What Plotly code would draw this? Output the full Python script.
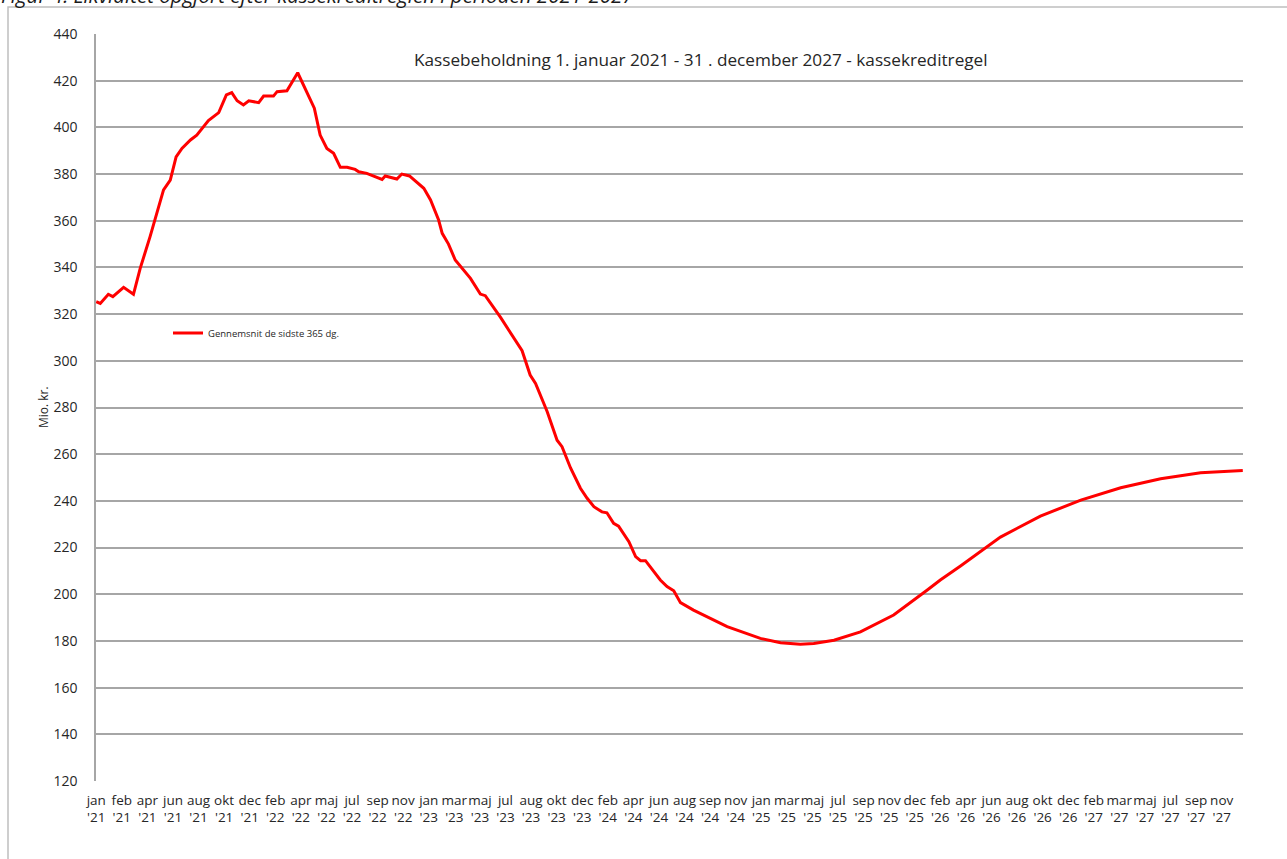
import plotly.graph_objects as go
import pandas as pd

# ---- data ----
dates = [
    "2021-01-01", "2021-01-10", "2021-01-28", "2021-02-07", "2021-03-03", "2021-03-25",
    "2021-04-09", "2021-05-01", "2021-05-31", "2021-06-15", "2021-06-28", "2021-07-11",
    "2021-07-30", "2021-08-13", "2021-09-08", "2021-10-01", "2021-10-18", "2021-10-30",
    "2021-11-11", "2021-11-25", "2021-12-07", "2021-12-29", "2022-01-09", "2022-01-31",
    "2022-02-08", "2022-03-02", "2022-03-26", "2022-04-16", "2022-05-02", "2022-05-15",
    "2022-05-30", "2022-06-14", "2022-06-29", "2022-07-14", "2022-08-01", "2022-08-09",
    "2022-08-27", "2022-09-30", "2022-10-07", "2022-11-02", "2022-11-13", "2022-11-30",
    "2023-01-01", "2023-01-16", "2023-02-03", "2023-02-11", "2023-02-25", "2023-03-12",
    "2023-04-15", "2023-05-07", "2023-05-18", "2023-06-21", "2023-08-08", "2023-08-26",
    "2023-09-07", "2023-10-03", "2023-10-25", "2023-11-05", "2023-11-24", "2023-12-16",
    "2023-12-31", "2024-01-15", "2024-02-02", "2024-02-13", "2024-02-28", "2024-03-10",
    "2024-04-02", "2024-04-17", "2024-04-28", "2024-05-09", "2024-06-11", "2024-06-26",
    "2024-07-11", "2024-07-26", "2024-08-24", "2024-11-07", "2025-01-20", "2025-03-06",
    "2025-04-19", "2025-05-19", "2025-07-03", "2025-08-31", "2025-11-13", "2026-01-27",
    "2026-02-25", "2026-04-11", "2026-07-09", "2026-10-06", "2027-01-04", "2027-04-03",
    "2027-07-01", "2027-09-28", "2027-12-31",
]
kassebeholdning = [
    325.3, 324.6, 328.5, 327.5, 331.5, 328.5,
    339.6, 353.2, 373.2, 377.4, 387.4, 391.0,
    394.6, 396.7, 402.9, 406.3, 413.9, 414.9,
    411.4, 409.6, 411.4, 410.6, 413.4, 413.4,
    415.3, 415.7, 423.4, 414.6, 408.2, 396.7,
    391.0, 388.9, 382.9, 382.9, 382.0, 381.0,
    380.3, 377.7, 379.2, 377.9, 380.0, 379.2,
    373.9, 368.9, 360.3, 354.6, 350.0, 343.2,
    335.3, 328.6, 327.9, 318.6, 304.3, 293.9,
    290.3, 278.2, 266.0, 263.2, 254.1, 245.4,
    241.1, 237.5, 235.3, 234.9, 230.4, 229.2,
    222.5, 216.1, 214.4, 214.4, 206.1, 203.3,
    201.5, 196.4, 193.2, 186.1, 181.1, 179.2,
    178.6, 178.9, 180.3, 183.9, 191.1, 201.8,
    206.1, 212.1, 224.5, 233.5, 240.3, 245.6,
    249.5, 252.0, 253.0,
]
series_name = "Gennemsnit de sidste 365 dg."
tick_labels = [
    "jan '21", "feb '21", "apr '21", "jun '21", "aug '21", "okt '21", "dec '21",
    "feb '22", "apr '22", "maj '22", "jul '22", "sep '22", "nov '22",
    "jan '23", "mar '23", "maj '23", "jul '23", "aug '23", "okt '23", "dec '23",
    "feb '24", "apr '24", "jun '24", "aug '24", "sep '24", "nov '24",
    "jan '25", "mar '25", "maj '25", "jul '25", "sep '25", "nov '25", "dec '25",
    "feb '26", "apr '26", "jun '26", "aug '26", "okt '26", "dec '26",
    "feb '27", "mar '27", "maj '27", "jul '27", "sep '27", "nov '27",
]
y_ticks = list(range(120, 441, 20))
title_text = "Kassebeholdning 1. januar 2021 - 31 . december 2027 - kassekreditregel"
caption_text = "Figur 4. Likviditet opgjort efter kassekreditreglen i perioden 2021-2027"
y_title = "Mio. kr."

# tick positions: a label every 57 days from the first date (category axis interval)
tick_vals = pd.date_range("2021-01-01", periods=len(tick_labels), freq="57D")
tick_text = [t.replace(" ", "<br>") for t in tick_labels]

FONT = "Open Sans, Noto Sans, DejaVu Sans, sans-serif"
GRID = "#a6a6a6"
TXT = "#262626"

fig = go.Figure()
fig.add_trace(go.Scatter(
    x=dates, y=kassebeholdning, mode="lines", name=series_name,
    line=dict(color="#ff0000", width=3), showlegend=True,
))

W, H = 1287, 859
L, R, T, B = 96, 44, 34, 78
pw, ph = W - L - R, H - T - B


def px_x(p):
    return (p - L) / pw


def px_y(p):
    return (H - B - p) / ph


fig.update_layout(
    width=W, height=H,
    margin=dict(l=L, r=R, t=T, b=B, pad=0),
    paper_bgcolor="white", plot_bgcolor="white",
    font=dict(family=FONT, color=TXT, size=13),
    showlegend=True,
    legend=dict(
        x=px_x(168), y=px_y(333), xanchor="left", yanchor="middle",
        bgcolor="rgba(0,0,0,0)", font=dict(size=9.5, color=TXT),
        itemwidth=30,
    ),
    xaxis=dict(
        type="date",
        range=["2020-12-31 12:00", "2027-12-31 12:00"],
        tickmode="array", tickvals=tick_vals, ticktext=tick_text,
        showgrid=False, zeroline=False,
        showline=False, ticks="",
        tickfont=dict(size=13.5, color=TXT),
        tickangle=0, ticklabelstandoff=9,
    ),
    yaxis=dict(
        range=[120, 440], tickmode="array", tickvals=y_ticks,
        showgrid=True, gridcolor=GRID, gridwidth=1.5,
        zeroline=False, showline=True, linecolor=GRID, linewidth=1.5,
        ticks="", ticklabelstandoff=14,
        tickfont=dict(size=14, color=TXT),
    ),
)

# outer frame of the chart object
fig.add_shape(type="rect", xref="paper", yref="paper",
              x0=px_x(8), x1=px_x(1300), y0=px_y(900), y1=px_y(7),
              line=dict(color="#bfbfbf", width=1.5), fillcolor="rgba(0,0,0,0)",
              layer="below")

fig.add_annotation(text=title_text, xref="paper", yref="paper",
                   x=px_x(701), y=px_y(60), xanchor="center", yanchor="middle",
                   showarrow=False, font=dict(size=17.2, color=TXT))
fig.add_annotation(text=y_title, xref="paper", yref="paper",
                   x=px_x(43), y=px_y(407), xanchor="center", yanchor="middle",
                   textangle=-90, showarrow=False, font=dict(size=12, color=TXT))
fig.add_annotation(text="<i>" + caption_text + "</i>", xref="paper", yref="paper",
                   x=px_x(-1), y=px_y(11), xanchor="left", yanchor="bottom",
                   showarrow=False, font=dict(size=20.5, color="#1a1a1a"))

fig.write_html("out.html", config={"displayModeBar": False},
               post_script="document.body.style.margin='0px';")
